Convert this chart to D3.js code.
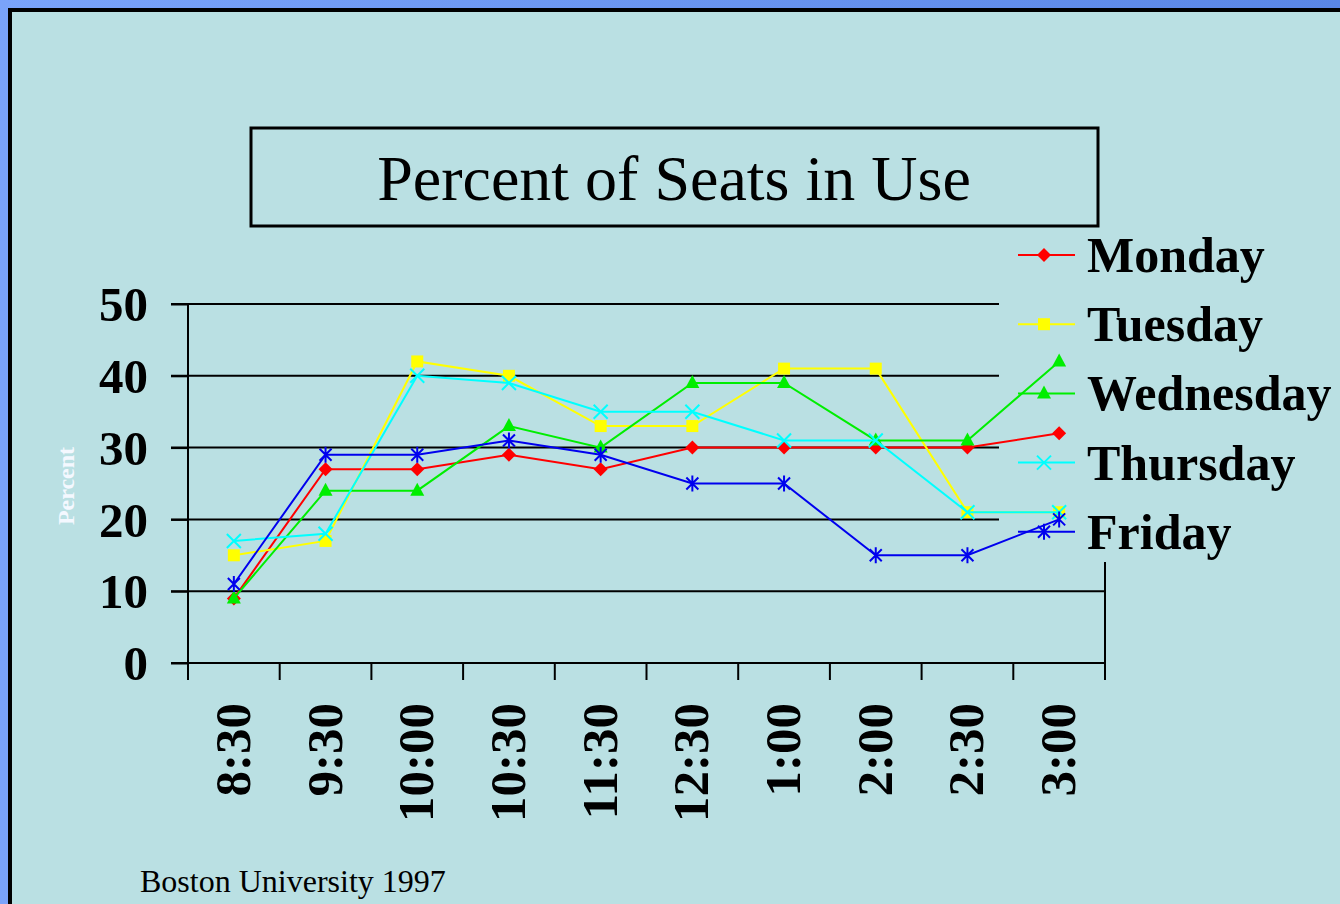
<!DOCTYPE html>
<html>
<head>
<meta charset="utf-8">
<script src="https://cdn.jsdelivr.net/npm/d3@7"></script>
<style>
  html, body { margin: 0; padding: 0; overflow: hidden; }
  svg { display: block; }
  text { font-family: "Liberation Serif", "Times New Roman", serif; }
</style>
</head>
<body>
<div id="chart_wrapper"></div>
<script>
var times = ["8:30", "9:30", "10:00", "10:30", "11:30", "12:30", "1:00", "2:00", "2:30", "3:00"];
var days = ["Monday", "Tuesday", "Wednesday", "Thursday", "Friday"];
var monday    = [9, 27, 27, 29, 27, 30, 30, 30, 30, 32];
var tuesday   = [15, 17, 42, 40, 33, 33, 41, 41, 21, 21];
var wednesday = [9, 24, 24, 33, 30, 39, 39, 31, 31, 42];
var thursday  = [17, 18, 40, 39, 35, 35, 31, 31, 21, 21];
var friday    = [11, 29, 29, 31, 29, 25, 25, 15, 15, 20];
var yTicks = [0, 10, 20, 30, 40, 50];

var colors = ["#ff0000", "#ffff00", "#00ee00", "#00ffff", "#0000ee"];
var shapes = ["diamond", "square", "triangle", "cross", "star"];

var W = 1340, H = 904;
var series = [monday, tuesday, wednesday, thursday, friday].map(function(v, i) {
  return { name: days[i], values: v, color: colors[i], shape: shapes[i] };
});

var svg = d3.select("#chart_wrapper").append("svg").attr("width", W).attr("height", H);

var defs = svg.append("defs");
var grad = defs.append("linearGradient").attr("id", "bg").attr("x1", 0).attr("x2", 1).attr("y1", 0).attr("y2", 0);
grad.append("stop").attr("offset", 0).attr("stop-color", "#7aa3fa");
grad.append("stop").attr("offset", 1).attr("stop-color", "#5a86e6");

svg.append("rect").attr("width", W).attr("height", H).attr("fill", "url(#bg)");
svg.append("rect").attr("x", 10).attr("y", 10).attr("width", W + 20).attr("height", H + 20)
  .attr("fill", "#bae0e3").attr("stroke", "#000").attr("stroke-width", 4);

// plot area
var plot = { left: 188, right: 1105, top: 304, bottom: 663 };
var x = d3.scaleBand().domain(times).range([plot.left, plot.right]).padding(0);
var y = d3.scaleLinear().domain([0, 50]).range([plot.bottom, plot.top]);
var cx = function(i) { return x(times[i]) + x.bandwidth() / 2; };

// gridlines
svg.append("g").selectAll("line").data(yTicks.filter(function(d) { return d > 0; }))
  .enter().append("line")
  .attr("x1", plot.left - 17).attr("x2", plot.right)
  .attr("y1", function(d) { return y(d); }).attr("y2", function(d) { return y(d); })
  .attr("stroke", "#000").attr("stroke-width", 2);

// right border of plot
svg.append("line").attr("x1", plot.right).attr("x2", plot.right)
  .attr("y1", plot.top).attr("y2", plot.bottom + 17).attr("stroke", "#000").attr("stroke-width", 2);

// y axis
var yAxis = d3.axisLeft(y).tickValues(yTicks).tickSize(17).tickPadding(23);
var gy = svg.append("g").attr("transform", "translate(" + plot.left + ",0)").call(yAxis);
gy.select(".domain").attr("d", "M0," + plot.top + "V" + (plot.bottom + 17)).attr("stroke-width", 2);
gy.selectAll(".tick line").attr("stroke-width", 2);
gy.selectAll(".tick text").attr("font-size", 49).attr("font-weight", "bold")
  .attr("font-family", "Liberation Serif, Times New Roman, serif").attr("fill", "#000").attr("dy", "0.34em");

// x axis
var xAxis = d3.axisBottom(x).tickSize(0).tickFormat("");
var gx = svg.append("g").attr("transform", "translate(0," + plot.bottom + ")").call(xAxis);
gx.select(".domain").attr("d", "M" + (plot.left - 17) + ",0H" + plot.right).attr("stroke-width", 2);
var bounds = times.map(function(t) { return x(t); }).concat([plot.right]);
gx.selectAll(".bound").data(bounds).enter().append("line")
  .attr("x1", function(d) { return d; }).attr("x2", function(d) { return d; })
  .attr("y1", 0).attr("y2", 17).attr("stroke", "#000").attr("stroke-width", 2);
gx.selectAll(".lbl").data(times).enter().append("text")
  .attr("transform", function(d, i) { return "translate(" + (cx(i) + 16) + ",40) rotate(-90)"; })
  .attr("text-anchor", "end")
  .attr("font-size", 51).attr("font-weight", "bold").attr("fill", "#000")
  .text(function(d) { return d; });

// y label
svg.append("text").attr("transform", "translate(74,486) rotate(-90)")
  .attr("text-anchor", "middle").attr("font-size", 24).attr("font-weight", "bold")
  .attr("fill", "#f4f8ff").text("Percent");

// legend background (covers gridlines)
var lg = { x: 999, y: 230, w: 341, h: 332 };
svg.append("rect").attr("x", lg.x).attr("y", lg.y).attr("width", lg.w).attr("height", lg.h).attr("fill", "#bae0e3");

function marker(sel, shape, color) {
  if (shape === "diamond") {
    sel.append("path").attr("d", "M0,-7L7,0L0,7L-7,0Z").attr("fill", color);
  } else if (shape === "square") {
    sel.append("rect").attr("x", -6).attr("y", -6).attr("width", 12).attr("height", 12).attr("fill", color);
  } else if (shape === "triangle") {
    sel.append("path").attr("d", "M0,-8L7,5L-7,5Z").attr("fill", color);
  } else if (shape === "cross") {
    sel.append("path").attr("d", "M-7,-7L7,7M-7,7L7,-7").attr("stroke", color).attr("stroke-width", 2);
  } else {
    sel.append("path").attr("d", "M-6,-6L6,6M-6,6L6,-6M0,-8L0,8").attr("stroke", color).attr("stroke-width", 2);
  }
}

// series
var line = d3.line().x(function(d, i) { return cx(i); }).y(function(d) { return y(d); });
series.forEach(function(s) {
  var g = svg.append("g");
  g.append("path").datum(s.values).attr("d", line).attr("fill", "none")
    .attr("stroke", s.color).attr("stroke-width", 2);
  s.values.forEach(function(v, i) {
    var m = g.append("g").attr("transform", "translate(" + cx(i) + "," + y(v) + ")");
    marker(m, s.shape, s.color);
  });
});

// legend
var legend = svg.append("g");
series.forEach(function(s, i) {
  var ly = 255 + i * 69.2;
  var row = legend.append("g").attr("transform", "translate(0," + ly + ")");
  row.append("line").attr("x1", 1018).attr("x2", 1075).attr("y1", 0).attr("y2", 0)
    .attr("stroke", s.color).attr("stroke-width", 2);
  marker(row.append("g").attr("transform", "translate(1044,0)"), s.shape, s.color);
  row.append("text").attr("x", 1087).attr("y", 17).attr("font-size", 50).attr("font-weight", "bold")
    .attr("fill", "#000").text(s.name);
});

// title box
svg.append("rect").attr("x", 251).attr("y", 128).attr("width", 847).attr("height", 98)
  .attr("fill", "none").attr("stroke", "#000").attr("stroke-width", 3);
svg.append("text").attr("x", 674).attr("y", 200).attr("text-anchor", "middle")
  .attr("font-size", 64).attr("fill", "#000").text("Percent of Seats in Use");

// footer
svg.append("text").attr("x", 140).attr("y", 892).attr("font-size", 32).attr("fill", "#000")
  .text("Boston University 1997");
</script>
</body>
</html>
